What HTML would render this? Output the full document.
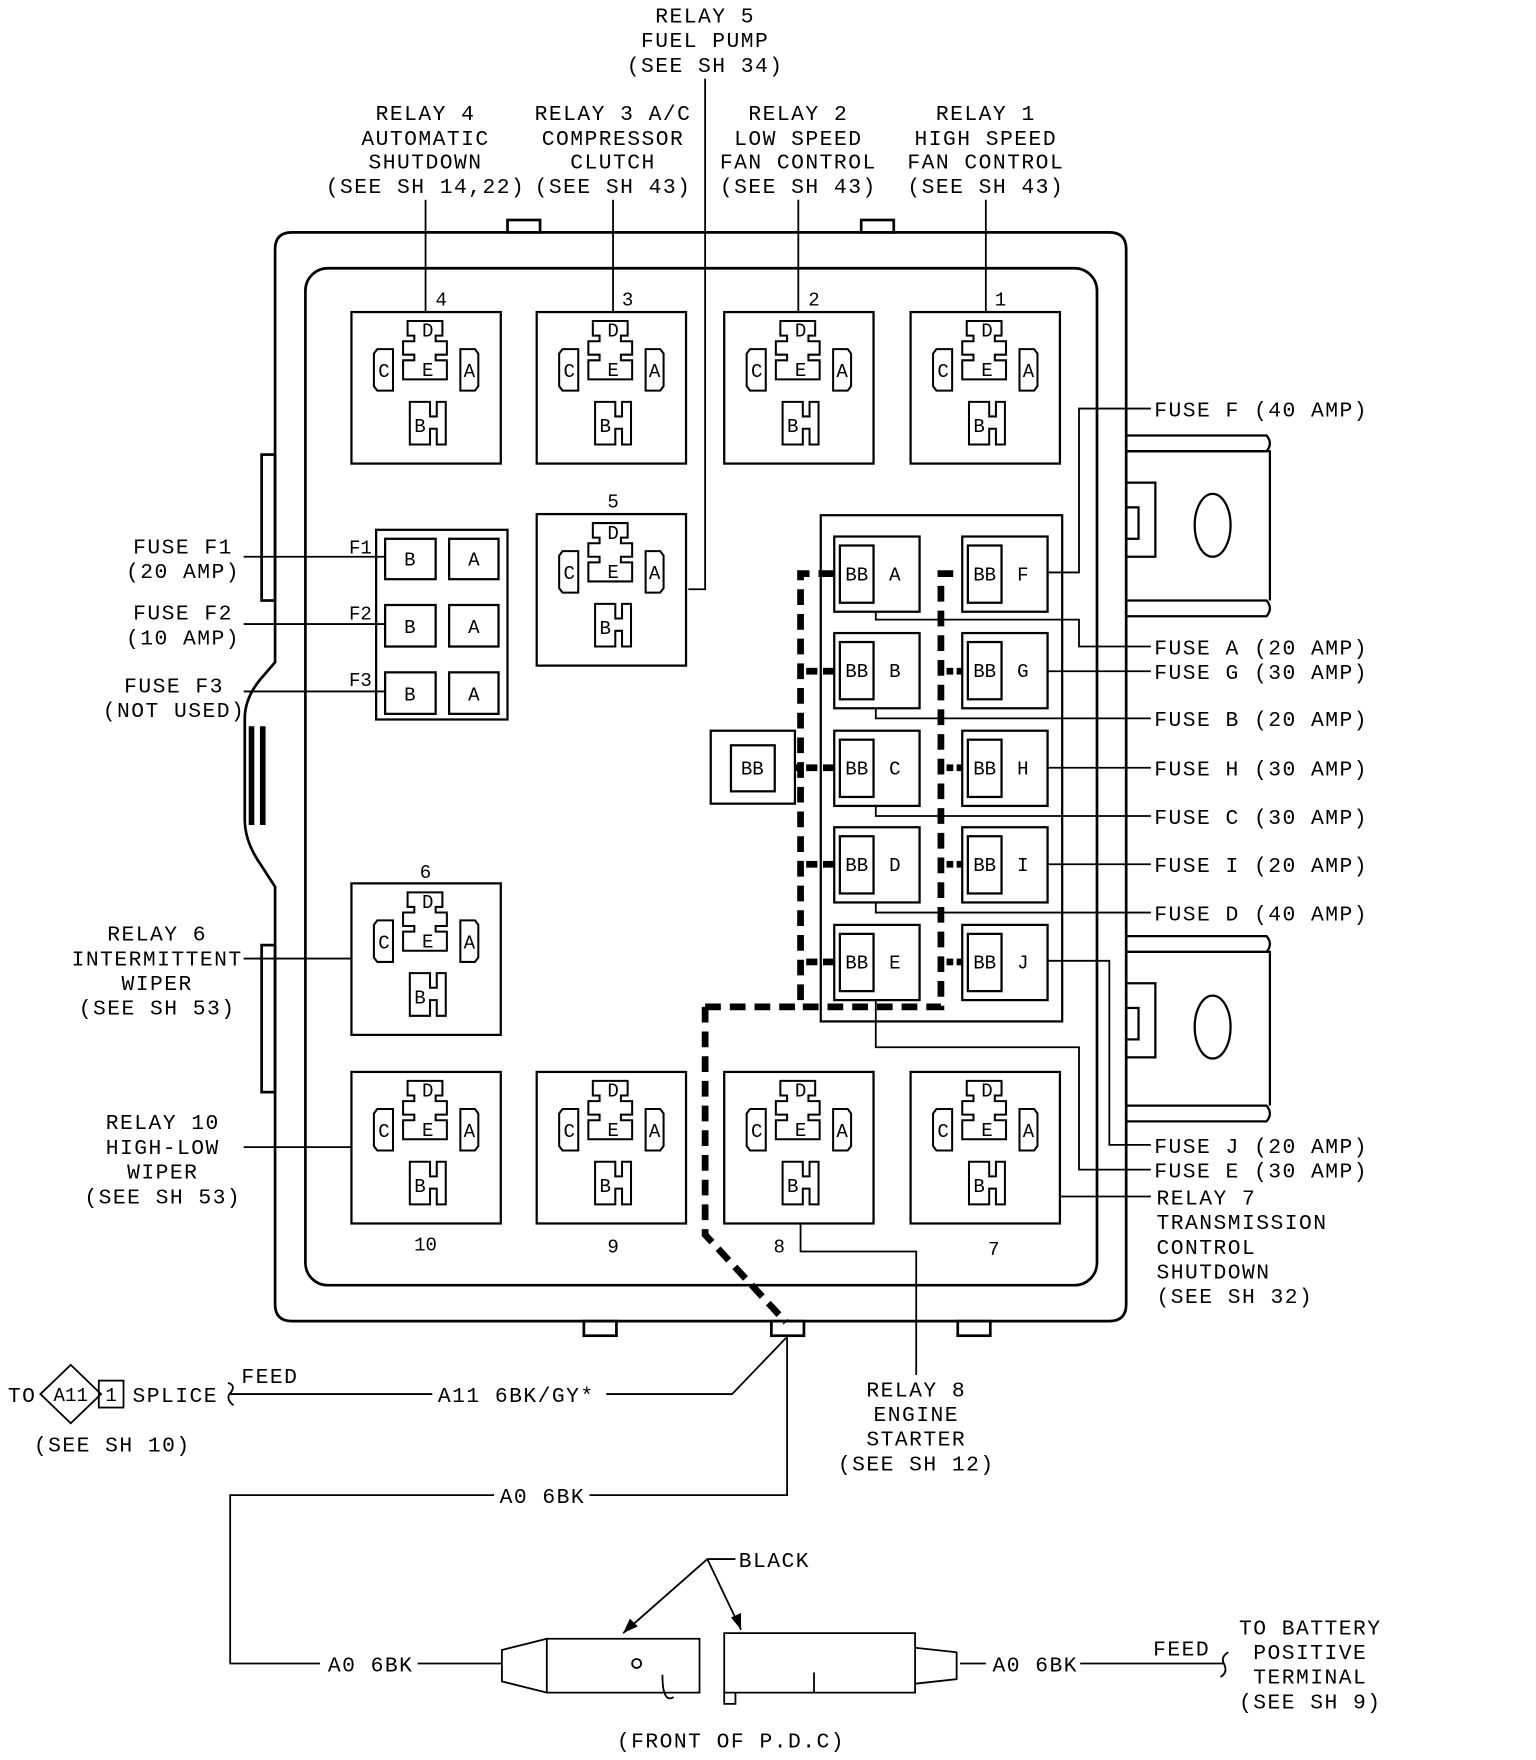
<!DOCTYPE html>
<html><head><meta charset="utf-8"><style>
html,body{margin:0;padding:0;background:#fff;width:1536px;height:1760px;overflow:hidden}
svg{display:block}
text{font-family:"Liberation Mono","DejaVu Sans Mono",monospace;font-size:19px;letter-spacing:1.3px;fill:#000}
.c{text-anchor:middle}
.s{font-size:17px;letter-spacing:0}
.m{font-size:17px;letter-spacing:0}
</style></head><body>
<svg width="1536" height="1760" viewBox="0 0 1368 1568" preserveAspectRatio="none" xmlns="http://www.w3.org/2000/svg">
<defs>
<g id="rly" fill="none" stroke="#000" stroke-width="2">
<rect x="0" y="0" width="133" height="135"/>
<path d="M50,8 H81 V21 H75 V26 H85 V38 H75 V43 H85 V60 H46 V43 H56 V38 H46 V26 H56 V21 H50 Z" stroke-width="1.8"/>
<path d="M23,33 H37 V70 H23 L20,66 V37 Z" stroke-width="1.8"/>
<path d="M97,33 H110 L113,37 V66 L110,70 H97 Z" stroke-width="1.8"/>
<path d="M52,80 H70 V93 H76 V80 H84 V118 H76 V104 H70 V118 H52 Z" stroke-width="1.8"/>
</g>
<g id="fz" fill="none" stroke="#000" stroke-width="2">
<rect x="0" y="0" width="76" height="67"/>
<rect x="5" y="8" width="30" height="51"/>
</g>
</defs>

<!-- housing -->
<g fill="none" stroke="#000" stroke-width="2.4">
<path d="M260,207 H988 Q1003,207 1003,222 V1162 Q1003,1177 988,1177 H260 Q245,1177 245,1162 V790 L232,770 Q218,750 218,730 V640 Q218,622 232,605 L245,590 V222 Q245,207 260,207 Z"/>
<rect x="272" y="239" width="705" height="906" rx="20"/>
<rect x="452" y="196" width="29" height="11"/>
<rect x="767" y="196" width="29" height="11"/>
<rect x="520" y="1177" width="29" height="13"/>
<rect x="853" y="1177" width="29" height="13"/>
<rect x="687" y="1177" width="29" height="13"/>
<rect x="233" y="405" width="12" height="130"/>
<rect x="233" y="842" width="12" height="131"/>
</g>
<g stroke="#000" stroke-width="5"><line x1="224" y1="647" x2="224" y2="735"/><line x1="234" y1="647" x2="234" y2="735"/></g>

<!-- right tabs -->
<g fill="none" stroke="#000" stroke-width="2">
<path d="M1003,388 H1128 Q1134,395 1128,402 H1003"/><path d="M1003,402 H1131 V535"/>
<path d="M1003,535 H1128 Q1134,542 1128,549 H1003"/>
<rect x="1003" y="430" width="26" height="66"/><rect x="1003" y="452" width="11" height="28"/>
<ellipse cx="1080" cy="468" rx="16" ry="28"/>
<path d="M1003,834 H1128 Q1134,841 1128,848 H1003"/><path d="M1003,848 H1131 V985"/>
<path d="M1003,985 H1128 Q1134,992 1128,999 H1003"/>
<rect x="1003" y="876" width="26" height="66"/><rect x="1003" y="898" width="11" height="28"/>
<ellipse cx="1080" cy="915" rx="16" ry="28"/>
</g>

<!-- relays -->
<use href="#rly" x="313" y="278"/><use href="#rly" x="478" y="278"/><use href="#rly" x="645" y="278"/><use href="#rly" x="811" y="278"/>
<use href="#rly" x="478" y="458"/><use href="#rly" x="313" y="787"/>
<use href="#rly" x="313" y="955"/><use href="#rly" x="478" y="955"/><use href="#rly" x="645" y="955"/><use href="#rly" x="811" y="955"/>
<g class="s">
<g transform="translate(313,278)"><text x="68" y="22" class="c s">D</text><text x="68" y="57" class="c s">E</text><text x="29" y="58" class="c s">C</text><text x="105" y="58" class="c s">A</text><text x="61" y="107" class="c s">B</text></g>
<g transform="translate(478,278)"><text x="68" y="22" class="c s">D</text><text x="68" y="57" class="c s">E</text><text x="29" y="58" class="c s">C</text><text x="105" y="58" class="c s">A</text><text x="61" y="107" class="c s">B</text></g>
<g transform="translate(645,278)"><text x="68" y="22" class="c s">D</text><text x="68" y="57" class="c s">E</text><text x="29" y="58" class="c s">C</text><text x="105" y="58" class="c s">A</text><text x="61" y="107" class="c s">B</text></g>
<g transform="translate(811,278)"><text x="68" y="22" class="c s">D</text><text x="68" y="57" class="c s">E</text><text x="29" y="58" class="c s">C</text><text x="105" y="58" class="c s">A</text><text x="61" y="107" class="c s">B</text></g>
<g transform="translate(478,458)"><text x="68" y="22" class="c s">D</text><text x="68" y="57" class="c s">E</text><text x="29" y="58" class="c s">C</text><text x="105" y="58" class="c s">A</text><text x="61" y="107" class="c s">B</text></g>
<g transform="translate(313,787)"><text x="68" y="22" class="c s">D</text><text x="68" y="57" class="c s">E</text><text x="29" y="58" class="c s">C</text><text x="105" y="58" class="c s">A</text><text x="61" y="107" class="c s">B</text></g>
<g transform="translate(313,955)"><text x="68" y="22" class="c s">D</text><text x="68" y="57" class="c s">E</text><text x="29" y="58" class="c s">C</text><text x="105" y="58" class="c s">A</text><text x="61" y="107" class="c s">B</text></g>
<g transform="translate(478,955)"><text x="68" y="22" class="c s">D</text><text x="68" y="57" class="c s">E</text><text x="29" y="58" class="c s">C</text><text x="105" y="58" class="c s">A</text><text x="61" y="107" class="c s">B</text></g>
<g transform="translate(645,955)"><text x="68" y="22" class="c s">D</text><text x="68" y="57" class="c s">E</text><text x="29" y="58" class="c s">C</text><text x="105" y="58" class="c s">A</text><text x="61" y="107" class="c s">B</text></g>
<g transform="translate(811,955)"><text x="68" y="22" class="c s">D</text><text x="68" y="57" class="c s">E</text><text x="29" y="58" class="c s">C</text><text x="105" y="58" class="c s">A</text><text x="61" y="107" class="c s">B</text></g>
</g>
<g class="m">
<text x="393" y="272" class="c m">4</text><text x="559" y="272" class="c m">3</text><text x="725" y="272" class="c m">2</text><text x="891" y="272" class="c m">1</text>
<text x="546" y="452" class="c m">5</text><text x="379" y="782" class="c m">6</text>
<text x="379" y="1114" class="c m">10</text><text x="546" y="1116" class="c m">9</text><text x="694" y="1116" class="c m">8</text><text x="885" y="1118" class="c m">7</text>
</g>

<!-- F fuse block -->
<g fill="none" stroke="#000" stroke-width="2">
<rect x="335" y="472" width="117" height="169"/>
<rect x="343" y="480" width="45" height="36"/><rect x="400" y="480" width="44" height="36"/>
<rect x="343" y="539" width="45" height="37"/><rect x="400" y="539" width="44" height="37"/>
<rect x="343" y="599" width="45" height="37"/><rect x="400" y="599" width="44" height="37"/>
</g>
<text x="365" y="504" class="c m">B</text><text x="422" y="504" class="c m">A</text>
<text x="365" y="564" class="c m">B</text><text x="422" y="564" class="c m">A</text>
<text x="365" y="624" class="c m">B</text><text x="422" y="624" class="c m">A</text>
<text x="321" y="493" class="c m">F1</text><text x="321" y="552" class="c m">F2</text><text x="321" y="611" class="c m">F3</text>

<!-- right fuse panel -->
<rect x="731" y="459" width="215" height="451" fill="none" stroke="#000" stroke-width="2"/>
<use href="#fz" x="743" y="478"/><use href="#fz" x="857" y="478"/>
<use href="#fz" x="743" y="564"/><use href="#fz" x="857" y="564"/>
<use href="#fz" x="743" y="651"/><use href="#fz" x="857" y="651"/>
<use href="#fz" x="743" y="737"/><use href="#fz" x="857" y="737"/>
<use href="#fz" x="743" y="824"/><use href="#fz" x="857" y="824"/>
<g class="m">
<text x="763" y="517" class="c m">BB</text><text x="797" y="517" class="c m">A</text><text x="877" y="517" class="c m">BB</text><text x="911" y="517" class="c m">F</text>
<text x="763" y="603" class="c m">BB</text><text x="797" y="603" class="c m">B</text><text x="877" y="603" class="c m">BB</text><text x="911" y="603" class="c m">G</text>
<text x="763" y="690" class="c m">BB</text><text x="797" y="690" class="c m">C</text><text x="877" y="690" class="c m">BB</text><text x="911" y="690" class="c m">H</text>
<text x="763" y="776" class="c m">BB</text><text x="797" y="776" class="c m">D</text><text x="877" y="776" class="c m">BB</text><text x="911" y="776" class="c m">I</text>
<text x="763" y="863" class="c m">BB</text><text x="797" y="863" class="c m">E</text><text x="877" y="863" class="c m">BB</text><text x="911" y="863" class="c m">J</text>
</g>
<rect x="633" y="651" width="75" height="65" fill="none" stroke="#000" stroke-width="2"/>
<rect x="651" y="664" width="39" height="41" fill="none" stroke="#000" stroke-width="2"/>
<text x="670" y="690" class="c m">BB</text>

<!-- dashed bus -->
<g fill="none" stroke="#000" stroke-width="6" stroke-dasharray="14 8">
<path d="M743,511 H713 V897 H838 V511 H857"/>
<path d="M628,897 H713"/>
<path d="M628,897 V1100 L700,1178"/>
</g>
<g stroke="#000" stroke-width="6">
<line x1="718" y1="598" x2="728" y2="598"/><line x1="733" y1="598" x2="743" y2="598"/>
<line x1="718" y1="684" x2="728" y2="684"/><line x1="733" y1="684" x2="743" y2="684"/>
<line x1="718" y1="770" x2="728" y2="770"/><line x1="733" y1="770" x2="743" y2="770"/>
<line x1="718" y1="857" x2="728" y2="857"/><line x1="733" y1="857" x2="743" y2="857"/>
<line x1="843" y1="598" x2="849" y2="598"/><line x1="852" y1="598" x2="857" y2="598"/>
<line x1="843" y1="684" x2="849" y2="684"/><line x1="852" y1="684" x2="857" y2="684"/>
<line x1="843" y1="770" x2="849" y2="770"/><line x1="852" y1="770" x2="857" y2="770"/>
<line x1="843" y1="857" x2="849" y2="857"/><line x1="852" y1="857" x2="857" y2="857"/>
<line x1="708" y1="684" x2="713" y2="684"/>
</g>

<!-- leader lines -->
<g fill="none" stroke="#000" stroke-width="1.6">
<line x1="379" y1="178" x2="379" y2="278"/><line x1="546" y1="178" x2="546" y2="278"/><line x1="711" y1="178" x2="711" y2="278"/><line x1="878" y1="178" x2="878" y2="278"/>
<path d="M628,70 V525 H613"/>
<line x1="217" y1="496" x2="343" y2="496"/><line x1="217" y1="556" x2="343" y2="556"/><line x1="217" y1="616" x2="343" y2="616"/>
<line x1="217" y1="854" x2="313" y2="854"/><line x1="217" y1="1022" x2="313" y2="1022"/>
<path d="M933,510 H961 V364 H1025"/>
<path d="M780,545 V552 H961 V576 H1025"/>
<line x1="933" y1="598" x2="1025" y2="598"/>
<path d="M780,631 V640 H1025"/>
<line x1="933" y1="684" x2="1025" y2="684"/>
<path d="M780,717 V727 H1025"/>
<line x1="933" y1="770" x2="1025" y2="770"/>
<path d="M780,804 V813 H1025"/>
<path d="M933,856 H988 V1020 H1025"/>
<path d="M780,890 V933 H961 V1042 H1025"/>
<line x1="945" y1="1066" x2="1025" y2="1066"/>
<path d="M713,1090 V1115 H816 V1225"/>
<path d="M205,1242 H385 M540,1242 H652 L700,1192"/>
<path d="M701,1190 V1332 H525 M440,1332 H205 V1482 H285 M372,1482 H447"/>
<path d="M855,1482 H878 M962,1482 H1090"/>
<path d="M203,1232 Q210,1234 206,1240 Q200,1246 208,1252"/>
<path d="M1094,1472 Q1087,1476 1090,1482 Q1094,1490 1087,1494"/>
<path d="M36,1242 L63,1216 L90,1242 L63,1268 Z"/>
<rect x="88" y="1230" width="22" height="24"/>
<path d="M487,1460 H623 V1508 H487 Z M487,1460 L447,1470 V1498 L487,1508"/>
<circle cx="567" cy="1482" r="4"/>
<path d="M590,1492 Q590,1518 600,1512"/>
<path d="M645,1455 H815 V1508 H645 Z M815,1468 L852,1472 V1496 L815,1500"/>
<path d="M645,1508 V1518 H655 V1508"/>
<line x1="725" y1="1490" x2="725" y2="1508"/>
<path d="M655,1389 H630 L555,1455 M630,1389 L660,1452"/>
</g>
<g fill="#000"><path d="M555,1455 L561,1442 L568,1449 Z"/><path d="M660,1452 L651,1441 L660,1437 Z"/></g>

<!-- text labels -->
<text x="628" y="20" class="c">RELAY 5</text><text x="628" y="42" class="c">FUEL PUMP</text><text x="628" y="64" class="c">(SEE SH 34)</text>
<text x="379" y="107" class="c">RELAY 4</text><text x="379" y="129" class="c">AUTOMATIC</text><text x="379" y="150" class="c">SHUTDOWN</text><text x="379" y="172" class="c">(SEE SH 14,22)</text>
<text x="546" y="107" class="c">RELAY 3 A/C</text><text x="546" y="129" class="c">COMPRESSOR</text><text x="546" y="150" class="c">CLUTCH</text><text x="546" y="172" class="c">(SEE SH 43)</text>
<text x="711" y="107" class="c">RELAY 2</text><text x="711" y="129" class="c">LOW SPEED</text><text x="711" y="150" class="c">FAN CONTROL</text><text x="711" y="172" class="c">(SEE SH 43)</text>
<text x="878" y="107" class="c">RELAY 1</text><text x="878" y="129" class="c">HIGH SPEED</text><text x="878" y="150" class="c">FAN CONTROL</text><text x="878" y="172" class="c">(SEE SH 43)</text>
<text x="163" y="493" class="c">FUSE F1</text><text x="163" y="515" class="c">(20 AMP)</text>
<text x="163" y="552" class="c">FUSE F2</text><text x="163" y="574" class="c">(10 AMP)</text>
<text x="155" y="617" class="c">FUSE F3</text><text x="155" y="639" class="c">(NOT USED)</text>
<text x="140" y="838" class="c">RELAY 6</text><text x="140" y="860" class="c">INTERMITTENT</text><text x="140" y="882" class="c">WIPER</text><text x="140" y="904" class="c">(SEE SH 53)</text>
<text x="145" y="1006" class="c">RELAY 10</text><text x="145" y="1028" class="c">HIGH-LOW</text><text x="145" y="1050" class="c">WIPER</text><text x="145" y="1072" class="c">(SEE SH 53)</text>
<text x="1028" y="371">FUSE F (40 AMP)</text>
<text x="1028" y="583">FUSE A (20 AMP)</text><text x="1028" y="605">FUSE G (30 AMP)</text>
<text x="1028" y="647">FUSE B (20 AMP)</text><text x="1028" y="691">FUSE H (30 AMP)</text>
<text x="1028" y="734">FUSE C (30 AMP)</text><text x="1028" y="777">FUSE I (20 AMP)</text>
<text x="1028" y="820">FUSE D (40 AMP)</text>
<text x="1028" y="1027">FUSE J (20 AMP)</text><text x="1028" y="1049">FUSE E (30 AMP)</text>
<text x="1030" y="1073">RELAY 7</text><text x="1030" y="1095">TRANSMISSION</text><text x="1030" y="1117">CONTROL</text><text x="1030" y="1139">SHUTDOWN</text><text x="1030" y="1161">(SEE SH 32)</text>
<text x="816" y="1244" class="c">RELAY 8</text><text x="816" y="1266" class="c">ENGINE</text><text x="816" y="1288" class="c">STARTER</text><text x="816" y="1310" class="c">(SEE SH 12)</text>
<text x="7" y="1249">TO</text><text x="63" y="1248" class="c m">A11</text><text x="99" y="1248" class="c m">1</text>
<text x="118" y="1249">SPLICE</text><text x="215" y="1232">FEED</text>
<text x="390" y="1249">A11 6BK/GY*</text>
<text x="100" y="1293" class="c">(SEE SH 10)</text>
<text x="445" y="1339">A0 6BK</text>
<text x="292" y="1489">A0 6BK</text>
<text x="884" y="1489">A0 6BK</text>
<text x="1027" y="1475">FEED</text>
<text x="1167" y="1456" class="c">TO BATTERY</text><text x="1167" y="1478" class="c">POSITIVE</text><text x="1167" y="1500" class="c">TERMINAL</text><text x="1167" y="1522" class="c">(SEE SH 9)</text>
<text x="658" y="1396">BLACK</text>
<text x="651" y="1557" class="c">(FRONT OF P.D.C)</text>
</svg>
</body></html>
